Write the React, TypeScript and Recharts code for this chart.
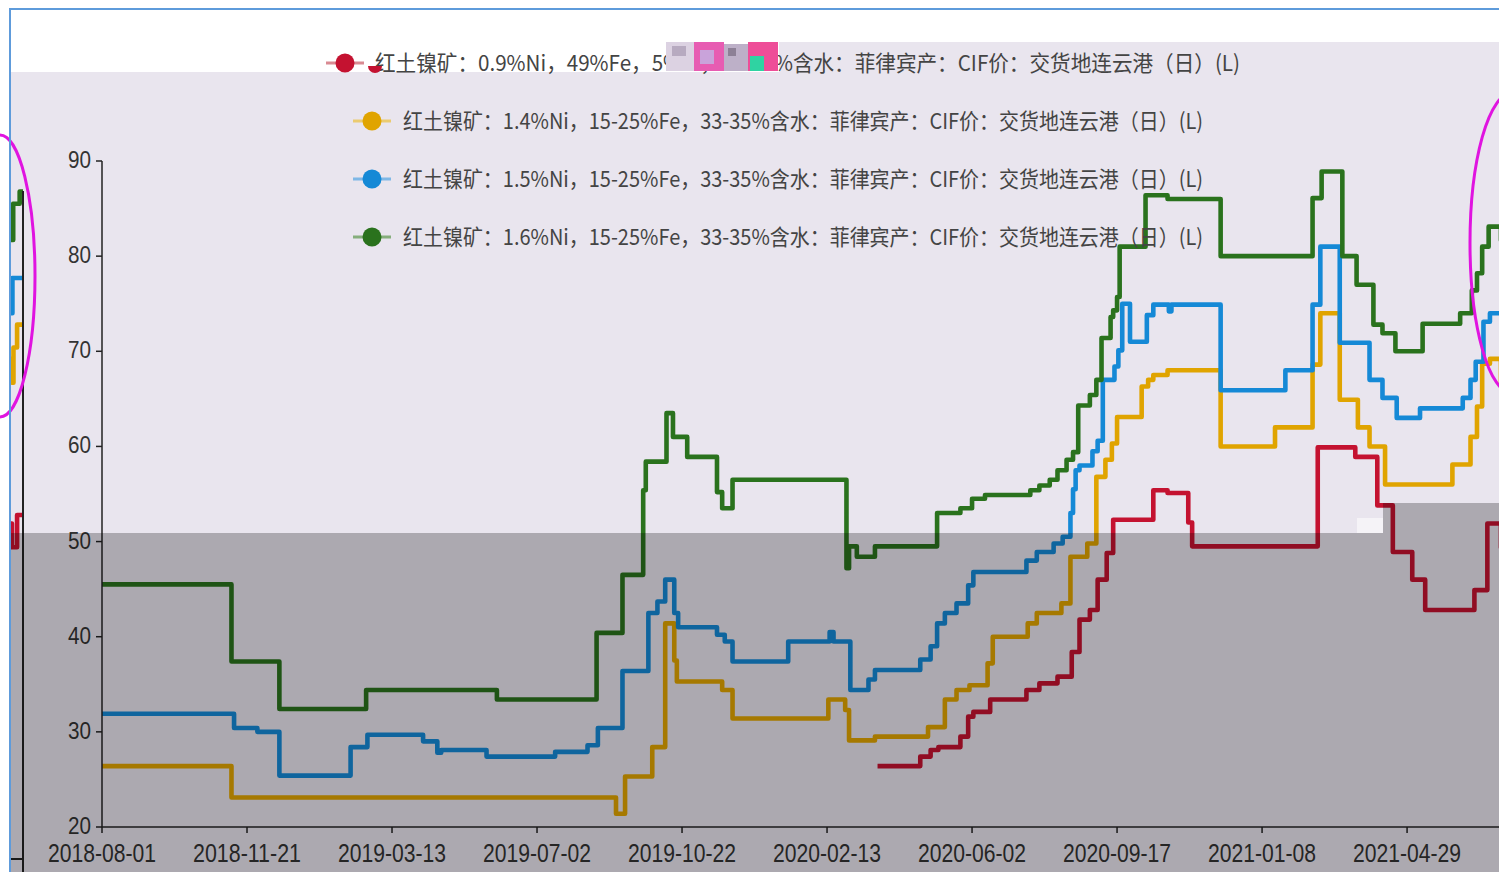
import React from 'react';
import { LineChart, Line, XAxis, YAxis, Legend } from 'recharts';

// x positions are in time units where each labelled tick interval is 112 units
const TICK_STEP = 112;
const X_END = 1079;
const tickLabels = ['2018-08-01', '2018-11-21', '2019-03-13', '2019-07-02', '2019-10-22', '2020-02-13', '2020-06-02', '2020-09-17', '2021-01-08', '2021-04-29'];
const tickPos = tickLabels.map((_, i) => i * TICK_STEP);
const yTicks = [20, 30, 40, 50, 60, 70, 80, 90];

const seriesNames = [
  '红土镍矿：0.9%Ni，49%Fe，5%Al，33-35%含水：菲律宾产：CIF价：交货地连云港（日）(L)',
  '红土镍矿：1.4%Ni，15-25%Fe，33-35%含水：菲律宾产：CIF价：交货地连云港（日）(L)',
  '红土镍矿：1.5%Ni，15-25%Fe，33-35%含水：菲律宾产：CIF价：交货地连云港（日）(L)',
  '红土镍矿：1.6%Ni，15-25%Fe，33-35%含水：菲律宾产：CIF价：交货地连云港（日）(L)',
];
const seriesColors = ['#C41230', '#E0A400', '#1589D6', '#2A721D'];
const legendLineColors = ['#D98A92', '#EBCB70', '#7FB8E6', '#86AE7C'];

// 0.9%Ni
const redT = [599, 632, 640, 646, 663, 669, 673, 686, 714, 724, 738, 749, 755, 763, 769, 776, 781, 812, 823, 839, 842, 939, 968, 985, 997, 1012, 1022, 1060, 1070, 1080.5, 1084.5, 1095];
const redV = [26.4, 27.4, 28.1, 28.4, 29.5, 31.6, 32.1, 33.4, 34.4, 35.1, 35.8, 38.4, 41.8, 42.8, 46.0, 48.8, 52.3, 55.4, 55.1, 52.0, 49.5, 59.9, 58.9, 53.8, 48.9, 46.0, 42.8, 44.9, 51.9, 49.4, 52.8, 52.8];

// 1.4%Ni
const yellowT = [0, 100, 397, 404, 425, 435, 442, 444, 479, 487, 561, 574, 577, 597, 638, 651, 660, 670, 684, 688, 715, 722, 741, 748, 761, 768, 775, 780, 784, 803, 808, 812, 823, 864, 906, 935, 941, 956, 970, 979, 991, 1043, 1057, 1062, 1066, 1072, 1080.5, 1081.7, 1084.5, 1095];
const yellowV = [26.4, 23.1, 21.4, 25.3, 28.4, 41.4, 37.5, 35.3, 34.4, 31.4, 33.4, 32.3, 29.1, 29.5, 30.5, 33.4, 34.4, 34.9, 37.2, 40.0, 41.4, 42.5, 43.5, 48.4, 49.8, 56.8, 58.6, 60.3, 63.1, 66.3, 67.0, 67.5, 68.0, 60.0, 62.0, 68.6, 74.0, 64.9, 62.0, 60.0, 56.0, 58.1, 61.0, 64.2, 68.7, 69.2, 66.7, 70.4, 72.8, 72.8];

// 1.5%Ni
const blueT = [0, 102, 120, 137, 192, 205, 248, 259, 262, 297, 350, 375, 383, 402, 422, 429, 435, 442, 445, 475, 481, 487, 530, 562, 565, 578, 592, 597, 632, 640, 645, 651, 660, 669, 673, 714, 722, 735, 742, 748, 750, 752, 755, 765, 769, 773, 782, 785, 788, 794, 807, 812, 824, 826, 864, 914, 935, 941, 956, 979, 989, 1000, 1018, 1051, 1057, 1061, 1067, 1072, 1080.5, 1080.9, 1095];
const blueV = [31.9, 30.4, 30.0, 25.4, 28.4, 29.7, 29.0, 27.8, 28.1, 27.4, 27.9, 28.6, 30.4, 36.4, 42.5, 43.7, 46.0, 42.5, 41.0, 40.2, 39.5, 37.4, 39.5, 40.5, 39.5, 34.4, 35.5, 36.5, 37.6, 39.0, 41.4, 42.5, 43.5, 45.4, 46.8, 48.0, 48.9, 49.8, 50.5, 53.0, 55.5, 57.5, 58.0, 59.5, 60.6, 67.0, 68.4, 70.1, 75.0, 71.0, 73.8, 74.9, 74.2, 74.9, 65.9, 68.0, 74.9, 81.0, 70.9, 67.0, 65.1, 63.0, 64.0, 65.1, 67.0, 68.9, 73.1, 74.0, 74.0, 77.7, 77.7];

// 1.6%Ni
const greenT = [0, 100, 137, 204, 305, 382, 402, 418, 420, 436, 441, 452, 475, 479, 487, 575, 577, 583, 597, 645, 663, 672, 682, 717, 724, 732, 738, 745, 750, 754, 763, 768, 772, 779, 781, 784, 786, 806, 823, 864, 935, 942, 958, 969, 982, 989, 999, 1020, 1049, 1058, 1062, 1066, 1071, 1080.5, 1081.5, 1086.5, 1095];
const greenV = [45.5, 37.4, 32.4, 34.4, 33.4, 40.4, 46.5, 55.4, 58.4, 63.5, 61.0, 58.9, 55.2, 53.5, 56.5, 47.2, 49.5, 48.4, 49.5, 53.0, 53.5, 54.5, 54.9, 55.4, 55.9, 56.5, 57.5, 58.6, 59.4, 64.3, 65.4, 67.0, 71.4, 73.6, 74.3, 75.7, 81.0, 86.4, 86.0, 80.0, 86.1, 88.9, 80.0, 77.0, 72.8, 71.9, 70.0, 72.9, 74.0, 76.4, 78.2, 81.0, 83.1, 81.7, 85.5, 86.8, 86.8];

const build = (ts: number[], vs: number[]) => ts.map((t, i) => ({ t, v: vs[i] }));
const seriesData = [build(redT, redV), build(yellowT, yellowV), build(blueT, blueV), build(greenT, greenV)];

const labelByPos = new Map(tickPos.map((p, i) => [p, tickLabels[i]]));

const AXIS_FONT = '"Liberation Sans", Arial, sans-serif';
const CJK_FONT = '"Noto Sans CJK SC", "Noto Sans", sans-serif';

const XTick = (props: any) => {
  const { x, y, payload } = props;
  const label = labelByPos.get(payload.value) ?? '';
  return (
    <text x={x} y={y} dy={27} textAnchor="middle" fontSize={25} fill="#333" fontFamily={AXIS_FONT} textLength={108} lengthAdjust="spacingAndGlyphs">
      {label}
    </text>
  );
};

const YTick = (props: any) => {
  const { x, y, payload } = props;
  return (
    <text x={x} y={y} dy={7} textAnchor="end" fontSize={23} fill="#333" fontFamily={AXIS_FONT} textLength={23} lengthAdjust="spacingAndGlyphs">
      {payload.value}
    </text>
  );
};

const legendRows = [
  { cx: 345, cy: 63, tx: 375, tl: 865 },
  { cx: 372, cy: 121, tx: 403, tl: 800 },
  { cx: 372, cy: 179, tx: 403, tl: 800 },
  { cx: 372, cy: 237, tx: 403, tl: 800 },
];

const renderLegend = () => (
  <svg width={1499} height={260} style={{ display: 'block' }}>
    {seriesNames.map((name, i) => {
      const r = legendRows[i];
      return (
        <g key={name}>
          <line x1={r.cx - 19} x2={r.cx + 19} y1={r.cy} y2={r.cy} stroke={legendLineColors[i]} strokeWidth={3} />
          <circle cx={r.cx} cy={r.cy} r={9.5} fill={seriesColors[i]} />
          <text x={r.tx} y={r.cy} dy={8} fontSize={22} fill="#444" fontFamily={CJK_FONT} textLength={r.tl} lengthAdjust="spacingAndGlyphs">
            {name}
          </text>
        </g>
      );
    })}
    {/* screenshot glitch over the first legend entry */}
    <path d="M368,66 a7,7 0 0 0 14,0 z" fill={seriesColors[0]} />
    <rect x={666} y={42} width={28} height={29} fill="#DCD2E2" />
    <rect x={672} y={46} width={14} height={10} fill="#B7AAC0" />
    <rect x={694} y={42} width={30} height={29} fill="#E75CB2" />
    <rect x={700} y={50} width={14} height={14} fill="#C9A3DA" />
    <rect x={724} y={44} width={24} height={27} fill="#BDB0C8" />
    <rect x={728} y={48} width={8} height={8} fill="#8D8096" />
    <rect x={748} y={42} width={30} height={29} fill="#EE4D98" />
    <rect x={750} y={56} width={14} height={15} fill="#2FD3A2" />
  </svg>
);

const renderLines = () =>
  seriesData.map((d, i) => (
    <Line
      key={seriesNames[i]}
      data={d}
      dataKey="v"
      name={seriesNames[i]}
      type="stepAfter"
      stroke={seriesColors[i]}
      strokeWidth={4.6}
      strokeLinejoin="round"
      dot={false}
      activeDot={false}
      isAnimationActive={false}
    />
  ));

export default function App() {
  return (
    <div style={{ position: 'absolute', left: 0, top: 0, width: 1499, height: 872, background: '#fff', overflow: 'hidden' }}>
      {/* plot background */}
      <div style={{ position: 'absolute', left: 11, top: 72, width: 1488, height: 800, background: '#E9E5EE' }} />
      <div style={{ position: 'absolute', left: 779, top: 42, width: 720, height: 30, background: '#E9E5EE' }} />

      <div style={{ position: 'absolute', left: 0, top: 0 }}>
        <LineChart width={1499} height={872} margin={{ top: 161, right: 0, bottom: 0, left: 10 }}>
          <XAxis
            dataKey="t"
            type="number"
            domain={[0, X_END]}
            allowDataOverflow
            ticks={tickPos}
            interval={0}
            height={45}
            tickSize={6}
            tickMargin={2}
            tick={XTick}
            axisLine={{ stroke: '#222', strokeWidth: 1.5 }}
            tickLine={{ stroke: '#222', strokeWidth: 1.5 }}
          />
          <YAxis
            type="number"
            domain={[20, 90]}
            ticks={yTicks}
            interval={0}
            width={92}
            tickSize={6}
            tickMargin={5}
            tick={YTick}
            axisLine={{ stroke: '#222', strokeWidth: 1.5 }}
            tickLine={{ stroke: '#222', strokeWidth: 1.5 }}
          />
          <Legend
            layout="horizontal"
            verticalAlign="middle"
            align="center"
            content={renderLegend}
            wrapperStyle={{ position: 'absolute', left: 0, top: 0, width: 1499, height: 260 }}
          />
          {renderLines()}
        </LineChart>
      </div>

      {/* wrapped tail of the series at the far left of the screenshot */}
      <div style={{ position: 'absolute', left: 11, top: 0, width: 12, height: 872, overflow: 'hidden' }}>
        <LineChart width={12} height={872} margin={{ top: 161, right: 0, bottom: 45, left: 0 }}>
          <XAxis dataKey="t" type="number" domain={[1079.8, 1089.07]} allowDataOverflow hide />
          <YAxis type="number" domain={[20, 90]} hide />
          {renderLines()}
        </LineChart>
      </div>
      <div style={{ position: 'absolute', left: 22, top: 191, width: 1.5, height: 681, background: '#222' }} />
      <div style={{ position: 'absolute', left: 11, top: 858, width: 12, height: 1.5, background: '#222' }} />

      {/* darker band of the screenshot */}
      <div style={{ position: 'absolute', left: 11, top: 533, width: 1372, height: 339, background: 'rgba(0,0,0,0.26)' }} />
      <div style={{ position: 'absolute', left: 1383, top: 503, width: 116, height: 369, background: 'rgba(0,0,0,0.26)' }} />
      <div style={{ position: 'absolute', left: 1357, top: 518, width: 26, height: 15, background: '#F5F3F7' }} />

      {/* annotation ellipses */}
      <svg width={1499} height={872} style={{ position: 'absolute', left: 0, top: 0, pointerEvents: 'none' }}>
        <ellipse cx={0} cy={276} rx={35} ry={141} fill="none" stroke="#E014E0" strokeWidth={3} />
        <ellipse cx={1512} cy={243} rx={42} ry={150} fill="none" stroke="#E014E0" strokeWidth={3} />
      </svg>

      {/* screenshot frame */}
      <div style={{ position: 'absolute', left: 9, top: 8, width: 2, height: 864, background: '#5E9BDB' }} />
      <div style={{ position: 'absolute', left: 9, top: 8, width: 1490, height: 2, background: '#5E9BDB' }} />
    </div>
  );
}
